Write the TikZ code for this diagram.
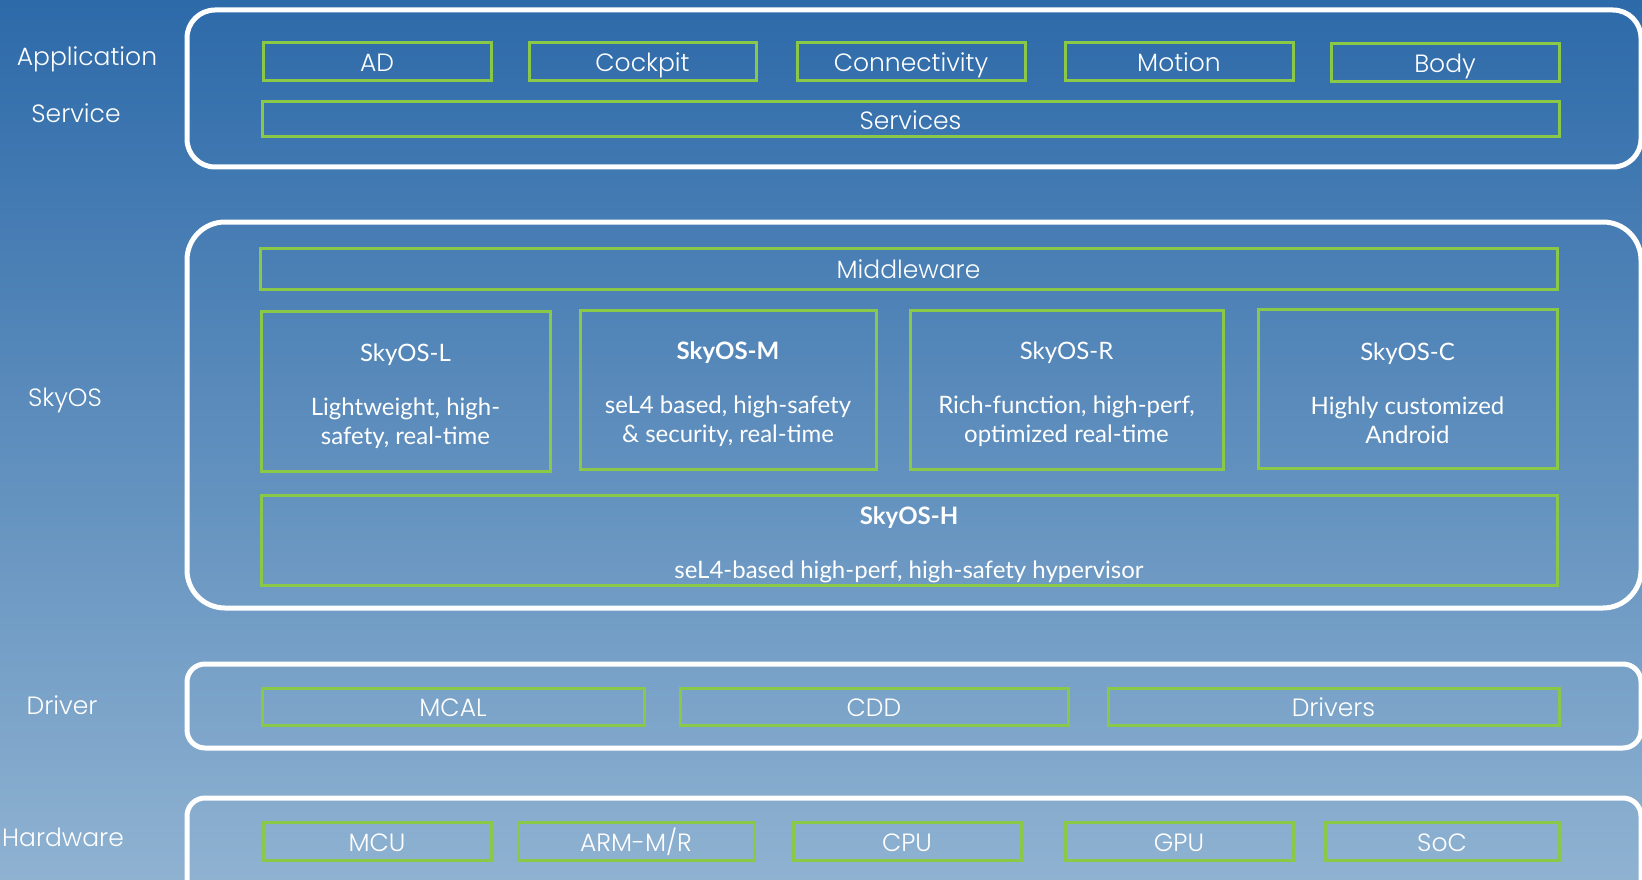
\documentclass[tikz,border=0pt]{standalone}
\usepackage{fontspec}
\setmainfont{Poppins}[UprightFont={* Light}, BoldFont={* Medium}]
\newfontfamily\osfont{Lato}
\newcommand\ospad{\rule{0pt}{28pt}}
\definecolor{bgtop}{RGB}{45,106,169}
\definecolor{bgbot}{RGB}{143,178,209}
\definecolor{partgreen}{RGB}{138,201,72}

\begin{document}
\begin{tikzpicture}[x=1pt,y=-1pt,
   font=\fontsize{25}{29}\selectfont,
   layer/.style={draw=white, line width=5pt},
   part/.style={draw=partgreen, line width=3pt, inner sep=0pt, text=white,
                align=center, minimum height=38pt, text height=20pt, text depth=0pt},
   os/.style={part, text height=, text depth=, font=\osfont\fontsize{24}{29}\selectfont},
   tag/.style={text=white, text height=19pt, text depth=1pt}]
  \useasboundingbox (0,0) rectangle (1642,880);
  \shade[top color=bgtop, bottom color=bgbot] (0,0) rectangle (1642,880);

  % layers
  \draw[layer, rounded corners=28pt] (187,10) rectangle (1641,167);
  \draw[layer, rounded corners=38pt] (187,222) rectangle (1641,608);
  \draw[layer, rounded corners=18pt] (187,664) rectangle (1641,748);
  \draw[layer, rounded corners=18pt] (187,798) rectangle (1641,900);

  % layer names
  \node[tag, name=app] at (87,57) {Application};
  \node[tag, name=srv] at (76,114) {Service};
  \node[tag, name=sky] at (65,397) {SkyOS};
  \node[tag, name=drv] at (62,705) {Driver};
  \node[tag, name=hw]  at (63,837) {Hardware};

  % application and service
  \node[part, name=ad,   minimum width=228pt] at (377,61.5) {AD};
  \node[part, name=cock, minimum width=227pt] at (642.5,61.5) {Cockpit};
  \node[part, name=conn, minimum width=228pt] at (911,61.5) {Connectivity};
  \node[part, name=mot,  minimum width=228pt] at (1179,61.5) {Motion};
  \node[part, name=body, minimum width=228pt] at (1445,62.5) {Body};
  \node[part, name=serv, minimum width=1297pt, minimum height=35pt] at (910.5,119.5) {Services};

  % skyos
  \node[part, name=mid, minimum width=1297pt, minimum height=41pt] at (908.5,268.5) {Middleware};
  \node[os, name=osl, minimum width=289pt, minimum height=160pt] at (405.5,391)
     {\ospad SkyOS-L\\[25pt]Lightweight, high-\\safety, real-time};
  \node[os, name=osm, minimum width=296pt, minimum height=159pt] at (728,389.5)
     {\ospad\bfseries SkyOS-M\\[25pt]seL4 based, high-safety\\\& security, real-time};
  \node[os, name=osr, minimum width=313pt, minimum height=159pt] at (1066.5,389.5)
     {\ospad SkyOS-R\\[25pt]Rich-function, high-perf,\\optimized real-time};
  \node[os, name=osc, minimum width=299pt, minimum height=159pt] at (1407.5,388.5)
     {\ospad SkyOS-C\\[25pt]Highly customized\\Android};
  \node[os, name=osh, minimum width=1296pt, minimum height=90pt] at (909,540)
     {\ospad\bfseries SkyOS-H\\[25pt]seL4-based high-perf, high-safety hypervisor};

  % driver
  \node[part, name=mcal, minimum width=382pt, minimum height=37pt] at (453,706.5) {MCAL};
  \node[part, name=cdd,  minimum width=388pt, minimum height=37pt] at (874,706.5) {CDD};
  \node[part, name=drvs, minimum width=451pt, minimum height=37pt] at (1333.5,706.5) {Drivers};

  % hardware
  \node[part, name=mcu, minimum width=228pt] at (377,841) {MCU};
  \node[part, name=arm, minimum width=236pt] at (636,841) {ARM-M/R};
  \node[part, name=cpu, minimum width=228pt] at (907,841) {CPU};
  \node[part, name=gpu, minimum width=228pt] at (1179,841) {GPU};
  \node[part, name=soc, minimum width=234pt] at (1442,841) {SoC};
\end{tikzpicture}
\end{document}
